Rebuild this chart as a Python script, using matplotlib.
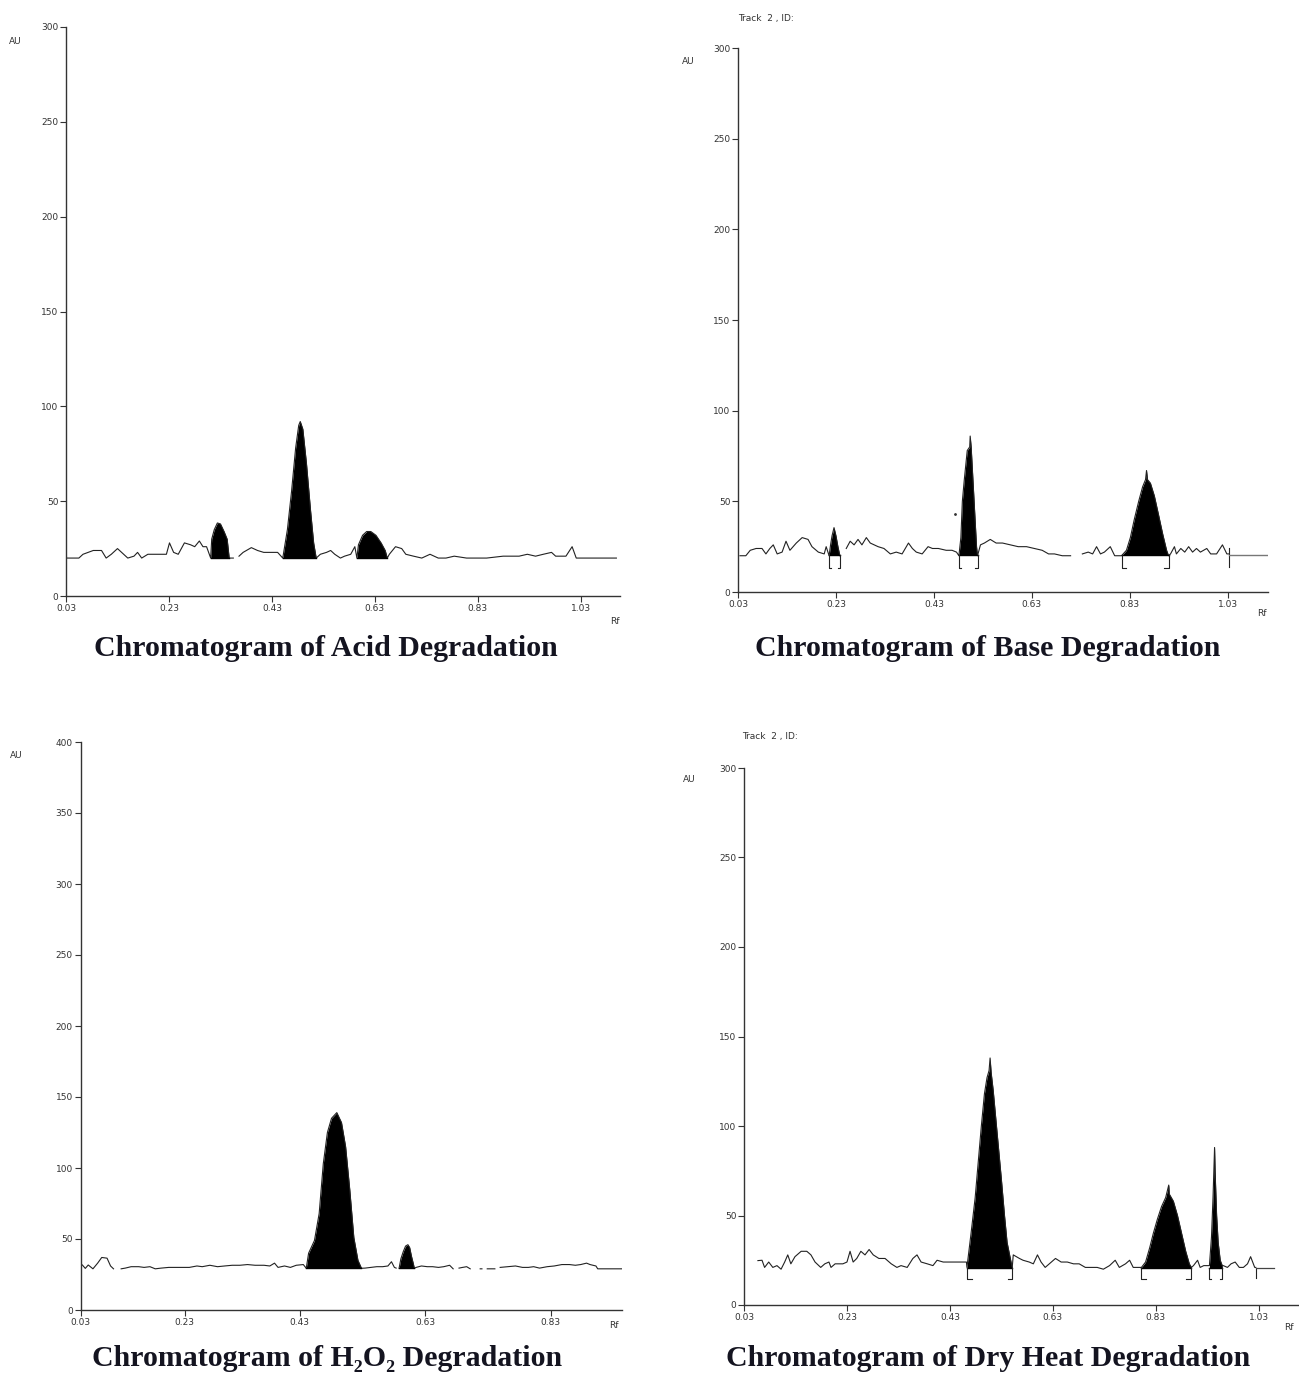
import numpy as np
import matplotlib
matplotlib.use("Agg")
import matplotlib.pyplot as plt

nan = np.nan

# ---- Acid degradation (top left) ----
acid_rf = [0.030, 0.031, 0.055, 0.063, 0.083, 0.099, 0.108, 0.118, 0.130, 0.142, 0.150, 0.162,
           0.169, 0.177, 0.189, 0.205, 0.225, 0.231, 0.239, 0.248, 0.260, 0.272, 0.280, 0.289,
           0.296, 0.303, 0.311, 0.313, 0.318, 0.324, 0.330, 0.337, 0.343, 0.347, 0.355, 0.360,
           0.366, 0.374, 0.390, 0.402, 0.414, 0.430, 0.441, 0.451, 0.460, 0.468, 0.476, 0.482,
           0.485, 0.490, 0.497, 0.505, 0.511, 0.516, 0.524, 0.536, 0.544, 0.552, 0.563, 0.571,
           0.583, 0.591, 0.595, 0.598, 0.606, 0.614, 0.622, 0.632, 0.642, 0.650, 0.654, 0.658,
           0.670, 0.682, 0.690, 0.705, 0.721, 0.737, 0.753, 0.768, 0.784, 0.808, 0.847, 0.879,
           0.910, 0.926, 0.942, 0.957, 0.973, 0.981, 1.001, 1.013, 1.021, 1.099]
acid_au = [28, 20, 20, 22, 24, 24, 20, 22, 25, 22, 20, 21,
           23, 20, 22, 22, 22, 28, 23, 22, 28, 27, 26, 29,
           26, 26, 20, 30, 35, 38.5, 38, 34, 30, 20, 20, nan,
           21, 23, 25.5, 24, 23, 23, 23, 20, 35, 55, 78, 90,
           92, 88, 70, 45, 28, 20, 22, 23, 24, 22, 20, 21,
           22, 26, 20, 27, 32, 34, 34, 32, 28, 24, 20, 22,
           26, 25, 22, 21, 20, 22, 20, 20, 21, 20, 20, 21,
           21, 22, 21, 22, 23, 21, 21, 26, 20, 20]
acid_peaks = [(0.311, 0.347), (0.451, 0.516), (0.595, 0.654)]
acid_base = 20

# ---- Base degradation (top right) ----
base_rf = [0.034, 0.046, 0.055, 0.067, 0.079, 0.087, 0.095, 0.102, 0.110, 0.120, 0.128, 0.136,
           0.149, 0.161, 0.173, 0.181, 0.194, 0.206, 0.210, 0.216, 0.219, 0.222, 0.226, 0.230,
           0.234, 0.238, 0.245, 0.251, 0.259, 0.267, 0.275, 0.283, 0.292, 0.300, 0.308, 0.316,
           0.328, 0.341, 0.353, 0.365, 0.378, 0.386, 0.394, 0.406, 0.418, 0.427, 0.439, 0.455,
           0.467, 0.476, 0.481, 0.485, 0.488, 0.492, 0.498, 0.503, 0.504, 0.506, 0.510, 0.514,
           0.517, 0.519, 0.525, 0.533, 0.545, 0.557, 0.570, 0.586, 0.602, 0.619, 0.635, 0.651,
           0.664, 0.676, 0.692, 0.709, 0.720, 0.733, 0.745, 0.754, 0.762, 0.770, 0.778, 0.790,
           0.799, 0.811, 0.813, 0.823, 0.831, 0.839, 0.848, 0.856, 0.862, 0.864, 0.866, 0.872,
           0.880, 0.889, 0.897, 0.905, 0.909, 0.913, 0.921, 0.925, 0.934, 0.942, 0.950, 0.958,
           0.966, 0.974, 0.987, 0.995, 1.007, 1.019, 1.028, 1.032]
base_au = [20, 20, 23, 24, 24, 21, 24, 26, 21, 22, 28, 23,
           27, 30, 29, 25, 22, 21, 25, 20, 26, 31, 35.5, 31,
           25, 20, nan, 24, 28, 26, 29, 26, 30, 27, 26, 25,
           24, 21, 22, 21, 27, 24, 22, 21, 25, 24, 24, 23,
           23, 22, 20, 30, 50, 62, 78, 80, 86, 80, 60, 40,
           25, 20, 26, 27, 29, 27, 27, 26, 25, 25, 24, 23,
           21, 21, 20, 20, nan, 21, 22, 21, 25, 21, 22, 25,
           20, 20, 20, 23, 30, 40, 50, 58, 62, 67, 62, 60,
           53, 42, 32, 23, 20, 21, 25, 21, 24, 22, 25, 22,
           24, 22, 24, 21, 21, 26, 21, 21]
base_peaks = [(0.216, 0.238), (0.481, 0.519), (0.813, 0.909)]
base_base = 20.4
base_tail_rf = [1.032, 1.109]
base_stray = (0.472, 43)

# ---- H2O2 degradation (bottom left) ----
h2o2_rf = [0.033, 0.038, 0.043, 0.051, 0.059, 0.066, 0.075, 0.081, 0.086, 0.092, 0.099, 0.106,
           0.116, 0.129, 0.138, 0.148, 0.157, 0.167, 0.180, 0.199, 0.215, 0.228, 0.237, 0.250,
           0.263, 0.275, 0.288, 0.301, 0.314, 0.327, 0.342, 0.352, 0.360, 0.366, 0.377, 0.387,
           0.397, 0.409, 0.414, 0.418, 0.428, 0.436, 0.443, 0.450, 0.457, 0.466, 0.474, 0.481,
           0.488, 0.495, 0.502, 0.508, 0.514, 0.524, 0.534, 0.544, 0.553, 0.559, 0.564, 0.567,
           0.570, 0.572, 0.575, 0.579, 0.583, 0.587, 0.590, 0.593, 0.596, 0.598, 0.601, 0.610,
           0.620, 0.629, 0.639, 0.648, 0.658, 0.664, 0.668, 0.674, 0.680, 0.687, 0.693, 0.700,
           0.710, 0.713, 0.717, 0.722, 0.735, 0.740, 0.744, 0.757, 0.770, 0.782, 0.792, 0.801,
           0.811, 0.824, 0.836, 0.849, 0.862, 0.872, 0.881, 0.891, 0.897, 0.907, 0.910, 0.951]
h2o2_au = [31.7, 29.3, 31.7, 29, 33, 37, 36.5, 31, 29, nan, 29, 29.5,
           30.5, 30.5, 30, 30.5, 29, 29.5, 30, 30, 30, 31, 30.5, 31.5,
           30.5, 31, 31.5, 31.5, 32, 31.5, 31.5, 31, 33, 30, 31, 30,
           31.5, 32, 29.4, 40, 49, 68, 103, 125, 135, 139, 132, 115,
           85, 51, 35, 29.4, 29.5, 30, 30.5, 30.5, 31, 34, 30, 29.5,
           nan, 29.4, 36, 41, 45, 46, 44, 38, 33, 29.4, 30, 31,
           30.5, 30.5, 30, 30.5, 31.5, 29, nan, 29.5, 30, 30.5, 29, nan,
           29, 29, nan, 29, 29, nan, 30, 30.5, 31, 30, 30, 30.5,
           29.5, 30.5, 31, 32, 32, 31.5, 32, 33, 32, 31, 29, 29]
h2o2_peaks = [(0.414, 0.508), (0.572, 0.598)]
h2o2_base = 29.4

# ---- Dry heat degradation (bottom right) ----
heat_rf = [0.057, 0.065, 0.070, 0.078, 0.086, 0.094, 0.102, 0.109, 0.115, 0.121, 0.129, 0.141,
           0.152, 0.160, 0.168, 0.179, 0.187, 0.195, 0.199, 0.207, 0.222, 0.230, 0.236, 0.242,
           0.249, 0.257, 0.265, 0.273, 0.281, 0.292, 0.304, 0.316, 0.327, 0.335, 0.347, 0.358,
           0.366, 0.374, 0.386, 0.397, 0.405, 0.417, 0.432, 0.448, 0.462, 0.463, 0.471, 0.479,
           0.485, 0.491, 0.497, 0.502, 0.506, 0.508, 0.510, 0.514, 0.522, 0.530, 0.536, 0.541,
           0.548, 0.551, 0.553, 0.565, 0.572, 0.584, 0.592, 0.600, 0.607, 0.615, 0.623, 0.635,
           0.646, 0.658, 0.670, 0.681, 0.693, 0.705, 0.716, 0.728, 0.740, 0.751, 0.759, 0.771,
           0.779, 0.786, 0.798, 0.802, 0.810, 0.818, 0.825, 0.833, 0.841, 0.849, 0.855, 0.856,
           0.864, 0.872, 0.880, 0.888, 0.895, 0.899, 0.903, 0.911, 0.916, 0.923, 0.930, 0.934,
           0.938, 0.941, 0.944, 0.945, 0.948, 0.951, 0.955, 0.959, 0.961, 0.969, 0.976, 0.984,
           0.992, 1.000, 1.008, 1.014, 1.022, 1.024]
heat_au = [24.8, 25, 21, 24, 21, 22, 20, 24, 28, 23, 27, 30,
           30, 28, 24, 21, 23, 24, 21, 23, 23, 24, 30, 24,
           26, 30, 28, 31, 28, 26, 26, 23, 21, 22, 21, 26,
           28, 24, 23, 22, 25, 24, 24, 24, 24, 21, 40, 60,
           80, 100, 118, 127, 131, 138, 130, 120, 95, 70, 50, 35,
           25, 21, 28, 26, 25, 24, 23, 28, 24, 21, 23, 26,
           24, 24, 23, 23, 21, 21, 21, 20, 22, 25, 21, 23,
           25, 21, 21, 21, 24, 32, 40, 48, 55, 60, 67, 62,
           58, 50, 40, 30, 23, 21, 22, 25, 21, 22, 22, 22,
           38, 60, 88, 75, 50, 35, 25, 22, 22, 21, 23, 24,
           21, 21, 23, 27, 21, 21]
heat_peaks = [(0.463, 0.551), (0.802, 0.899), (0.934, 0.959)]
heat_base = 20.7
heat_tail_rf = [1.024, 1.059]

W, H = 1299, 1374
fig = plt.figure(figsize=(W / 100, H / 100), dpi=100)


def px_axes(x0, y0, x1, y1):
    # pixel box (left, top, right, bottom) -> figure axes
    return fig.add_axes([x0 / W, 1 - y1 / H, (x1 - x0) / W, (y1 - y0) / H])


def ftext(x, y, s, **kw):
    fig.text(x / W, 1 - y / H, s, **kw)


def style(ax, xmax, ymax, xticks, xlabels, ystep=50):
    ax.set_xlim(0.03, xmax)
    ax.set_ylim(0, ymax)
    for side in ["top", "right"]:
        ax.spines[side].set_visible(False)
    for side in ["left", "bottom"]:
        ax.spines[side].set_color("#333333")
        ax.spines[side].set_linewidth(1.0)
    ax.set_xticks(xticks)
    ax.set_xticklabels(xlabels)
    ax.set_yticks(np.arange(0, ymax + 1, ystep))
    ax.tick_params(axis="both", labelsize=6.5, colors="#333333", length=4, width=0.8, pad=1.5)
    ax.patch.set_alpha(0)


def draw(ax, rf, au, peaks, base, brackets=False, low=14):
    rf = np.array(rf)
    au = np.array(au, dtype=float)
    ax.plot(rf, au, color="#222222", lw=0.8)
    for a, b in peaks:
        m = (rf >= a) & (rf <= b) & ~np.isnan(au)
        ax.fill_between(rf[m], base, au[m], color="black", lw=0)
        ax.plot([a, b], [base, base], color="black", lw=1.0)
        if brackets:
            d = (b - a) * 0.08 + 0.002
            ax.plot([a, a, a + d], [base, low, low], color="#222222", lw=0.8)
            ax.plot([b, b, b - d], [base, low, low], color="#222222", lw=0.8)


title_kw = dict(family=["Liberation Serif", "DejaVu Serif"], weight="bold",
                fontsize=21.5, color="#141420", ha="center", va="center")
small_kw = dict(fontsize=6.5, color="#333333", ha="left", va="center")

labels6 = ["0.03", "0.23", "0.43", "0.63", "0.83", "1.03"]
ticks6 = [0.03, 0.23, 0.43, 0.63, 0.83, 1.03]

# top left
ax1 = px_axes(66, 27, 620, 596)
style(ax1, 1.106, 300, ticks6, labels6)
draw(ax1, acid_rf, acid_au, acid_peaks, acid_base)
ftext(9, 41, "AU", **small_kw)
ftext(610, 621, "Rf", **small_kw)
ftext(326, 648, "Chromatogram of Acid Degradation", **title_kw)

# top right
ax2 = px_axes(738, 48, 1268, 592)
style(ax2, 1.112, 300, ticks6, labels6)
draw(ax2, base_rf, base_au, base_peaks, base_base, brackets=True, low=13.5)
ax2.plot([base_tail_rf[0], base_tail_rf[0]], [24.5, 14], color="#222222", lw=0.8)
ax2.plot(base_tail_rf, [base_base, base_base], color="#777777", lw=1.0)
ax2.plot([base_stray[0]], [base_stray[1]], marker=".", ms=2, color="#333333")
ftext(682, 62, "AU", **small_kw)
ftext(1257, 614, "Rf", **small_kw)
ftext(738, 18, "Track  2 , ID:", **small_kw)
ftext(988, 648, "Chromatogram of Base Degradation", **title_kw)

# bottom left (tick spacing follows the printed axis)
ax3 = px_axes(80.6, 742, 621.8, 1310)
style(ax3, 0.951, 400, [0.03, 0.207, 0.403, 0.616, 0.83],
      ["0.03", "0.23", "0.43", "0.63", "0.83"])
draw(ax3, h2o2_rf, h2o2_au, h2o2_peaks, h2o2_base)
ftext(10, 756, "AU", **small_kw)
ftext(609, 1326, "Rf", **small_kw)
ftext(327, 1359, "Chromatogram of H\u2082O\u2082 Degradation", **title_kw)

# bottom right
ax4 = px_axes(744, 768, 1299, 1305)
style(ax4, 1.108, 300, ticks6, labels6)
draw(ax4, heat_rf, heat_au, heat_peaks, heat_base, brackets=True, low=14.5)
ax4.plot([heat_tail_rf[0], heat_tail_rf[0]], [heat_base, 15], color="#222222", lw=0.8)
ax4.plot(heat_tail_rf, [heat_base, heat_base], color="#444444", lw=0.9)
ftext(683, 780, "AU", **small_kw)
ftext(1284, 1328, "Rf", **small_kw)
ftext(742, 737, "Track  2 , ID:", **small_kw)
ftext(988, 1359, "Chromatogram of Dry Heat Degradation", **title_kw)

plt.savefig("out.png", dpi=100)
plt.close(fig)
